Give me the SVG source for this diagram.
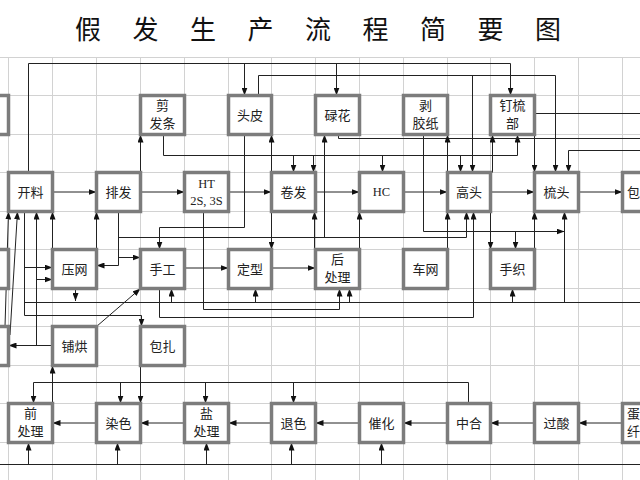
<svg xmlns="http://www.w3.org/2000/svg" width="640" height="480" viewBox="0 0 640 480">
<style>
.g{stroke:#d2d2d2;stroke-width:1;fill:none}
.b{fill:#fff;stroke:#7c7c7c;stroke-width:3.5}
.bi{fill:none;stroke:#3a3a3a;stroke-width:0.8}
.t{font-family:"Noto Sans CJK SC","Noto Sans",sans-serif;font-size:13px;fill:#222;text-anchor:middle}
.s{font-family:"Liberation Serif",serif;font-size:12.5px;fill:#222;text-anchor:middle}
.c{fill:none;stroke:#222;stroke-width:1}
.title{font-family:"Noto Sans CJK SC",sans-serif;font-size:26px;fill:#111;text-anchor:middle}
</style>
<defs>
<marker id="a" viewBox="0 0 8 6" refX="8" refY="3" markerWidth="8" markerHeight="6" orient="auto" markerUnits="userSpaceOnUse"><path d="M0,0 L8,3 L0,6 z" fill="#111"/></marker>
</defs>
<rect width="640" height="480" fill="#fff"/>
<g id="grid" class="g">
<path d="M8.5,57V480M52.5,57V480M96.5,57V480M140.5,57V480M184.5,57V480M228.5,57V480M271.5,57V480M315.5,57V480M359.5,57V480M403.5,57V480M447.5,57V480M490.5,57V480M534.5,57V480M578.5,57V480M622.5,57V480"/>
<path d="M0,57.5H640M0,95.5H640M0,134.5H640M0,172.5H640M0,211.5H640M0,249.5H640M0,288.5H640M0,326.5H640M0,365.5H640M0,403.5H640M0,442.5H640"/>
</g>
<text class="title" x="88 145.5 203 260.5 318 375.5 433 490.5 548" y="39">假发生产流程简要图</text>
<g id="connectors" class="c">
<path d="M28.5,172.5V63.5H510.5V95.5" marker-end="url(#a)"/>
<path d="M244.5,63.5V95.5" marker-end="url(#a)"/>
<path d="M336.5,63.5V95.5" marker-end="url(#a)"/>
<path d="M258.5,95.5V75.5H555.5V172.5" marker-end="url(#a)"/>
<path d="M472.5,75.5V172.5" marker-end="url(#a)"/>
<path d="M163.5,134.5V155.5H517.5V134.5" marker-end="url(#a)"/>
<path d="M293.5,155.5V172.5" marker-end="url(#a)"/>
<path d="M313.5,155.5V172.5" marker-end="url(#a)"/>
<path d="M382.5,155.5V172.5" marker-end="url(#a)"/>
<path d="M460.5,155.5V172.5" marker-end="url(#a)"/>
<path d="M338.5,134.5V138.5H640"/>
<path d="M640,150.5H568.5V172.5" marker-end="url(#a)"/>
<path d="M534.5,113.5H640"/>
<path d="M534.5,134.5V172.5" marker-end="url(#a)"/>
<path d="M140.5,172.5V134.5" marker-end="url(#a)"/>
<path d="M271.5,172.5V134.5" marker-end="url(#a)"/>
<path d="M324.5,237.5V134.5" marker-end="url(#a)"/>
<path d="M447.5,172.5V134.5" marker-end="url(#a)"/>
<path d="M492.5,172.5V134.5" marker-end="url(#a)"/>
<path d="M244.5,134.5V227.5H159.5V249.5" marker-end="url(#a)"/>
<path d="M52.5,192H96.5" marker-end="url(#a)"/>
<path d="M140.5,192H184.5" marker-end="url(#a)"/>
<path d="M228.5,192H271.5" marker-end="url(#a)"/>
<path d="M315.5,192H359.5" marker-end="url(#a)"/>
<path d="M403.5,192H447.5" marker-end="url(#a)"/>
<path d="M490.5,192H534.5" marker-end="url(#a)"/>
<path d="M578.5,192H622.5" marker-end="url(#a)"/>
<path d="M52.5,249.5V211.5" marker-end="url(#a)"/>
<path d="M96.5,249.5V211.5" marker-end="url(#a)"/>
<path d="M118.5,211.5V265.5H96.5" marker-end="url(#a)"/>
<path d="M118.5,257.5H140.5" marker-end="url(#a)"/>
<path d="M118.5,237.5H466.5V211.5" marker-end="url(#a)"/>
<path d="M423.5,134.5V231.5H564.5" marker-end="url(#a)"/>
<path d="M515.5,231.5V249.5" marker-end="url(#a)"/>
<path d="M271.5,211.5V249.5" marker-end="url(#a)"/>
<path d="M314.5,249.5V211.5" marker-end="url(#a)"/>
<path d="M359.5,249.5V211.5" marker-end="url(#a)"/>
<path d="M447.5,249.5V211.5" marker-end="url(#a)"/>
<path d="M490.5,211.5V249.5" marker-end="url(#a)"/>
<path d="M534.5,249.5V211.5" marker-end="url(#a)"/>
<path d="M564.5,302.5V211.5" marker-end="url(#a)"/>
<path d="M159.5,288.5V317.5H473.5V211.5" marker-end="url(#a)"/>
<path d="M203.5,211.5V309.5H339.5V288.5" marker-end="url(#a)"/>
<path d="M184.5,268H228.5" marker-end="url(#a)"/>
<path d="M271.5,268H315.5" marker-end="url(#a)"/>
<path d="M75.5,288.5V301" marker-end="url(#a)"/>
<path d="M24.5,211.5V315.5H141.5V326.5" marker-end="url(#a)"/>
<path d="M24.5,267.5H52.5" marker-end="url(#a)"/>
<path d="M36.5,279.5H52.5" marker-end="url(#a)"/>
<path d="M24.5,302.5H640"/>
<path d="M171.5,302.5V288.5" marker-end="url(#a)"/>
<path d="M255.5,302.5V288.5" marker-end="url(#a)"/>
<path d="M349.5,302.5V288.5" marker-end="url(#a)"/>
<path d="M512.5,302.5V288.5" marker-end="url(#a)"/>
<path d="M36.5,345.5V211.5" marker-end="url(#a)"/>
<path d="M52.5,345.5H8.5" marker-end="url(#a)"/>
<path d="M5,326.5L8.5,211.5" marker-end="url(#a)"/>
<path d="M10,335L17.5,211.5" marker-end="url(#a)"/>
<path d="M52.5,403.5V365.5" marker-end="url(#a)"/>
<path d="M96.5,326.5L140.5,288.5" marker-end="url(#a)"/>
<path d="M140.5,365.5V403.5" marker-end="url(#a)"/>
<path d="M468.5,403.5V382.5H33.5V403.5" marker-end="url(#a)"/>
<path d="M120.5,382.5V403.5" marker-end="url(#a)"/>
<path d="M205.5,382.5V403.5" marker-end="url(#a)"/>
<path d="M293.5,382.5V403.5" marker-end="url(#a)"/>
<path d="M622.5,423H578.5" marker-end="url(#a)"/>
<path d="M534.5,423H490.5" marker-end="url(#a)"/>
<path d="M447.5,423H403.5" marker-end="url(#a)"/>
<path d="M359.5,423H315.5" marker-end="url(#a)"/>
<path d="M271.5,423H228.5" marker-end="url(#a)"/>
<path d="M184.5,423H140.5" marker-end="url(#a)"/>
<path d="M96.5,423H52.5" marker-end="url(#a)"/>
<path d="M0,464.5H640"/>
<path d="M28.5,464.5V442.5" marker-end="url(#a)"/>
<path d="M117.5,464.5V442.5" marker-end="url(#a)"/>
<path d="M206.5,464.5V442.5" marker-end="url(#a)"/>
<path d="M291.5,464.5V442.5" marker-end="url(#a)"/>
<path d="M381.5,464.5V442.5" marker-end="url(#a)"/>
</g>
<g id="L1"><rect class="b" x="-40" y="95.5" width="48.5" height="39"/></g>
<g id="n_jianfatiao"><rect class="b" x="140.5" y="95.5" width="44" height="39"/><text class="t" x="162.5" y="110">剪</text><text class="t" x="162.5" y="128">发条</text></g>
<g id="n_toupi"><rect class="b" x="228.5" y="95.5" width="43" height="39"/><text class="t" x="250" y="120">头皮</text></g>
<g id="n_luhua"><rect class="b" x="315.5" y="95.5" width="44" height="39"/><text class="t" x="337.5" y="120">碌花</text></g>
<g id="n_bojiaozhi"><rect class="b" x="403.5" y="95.5" width="44" height="39"/><text class="t" x="425.5" y="110">剥</text><text class="t" x="425.5" y="128">胶纸</text></g>
<g id="n_dingshubu"><rect class="b" x="490.5" y="95.5" width="44" height="39"/><text class="t" x="512.5" y="110">钉梳</text><text class="t" x="512.5" y="128">部</text></g>
<g id="n_kailiao"><rect class="b" x="8.5" y="172.5" width="44" height="39"/><text class="t" x="30.5" y="197">开料</text></g>
<g id="n_paifa"><rect class="b" x="96.5" y="172.5" width="44" height="39"/><text class="t" x="118.5" y="197">排发</text></g>
<g id="n_ht"><rect class="b" x="184.5" y="172.5" width="44" height="39"/><text class="s" x="206.5" y="188">HT</text><text class="s" x="206.5" y="205">2S, 3S</text></g>
<g id="n_juanfa"><rect class="b" x="271.5" y="172.5" width="44" height="39"/><text class="t" x="293.5" y="197">卷发</text></g>
<g id="n_hc"><rect class="b" x="359.5" y="172.5" width="44" height="39"/><text class="s" x="381.5" y="196">HC</text></g>
<g id="n_gaotou"><rect class="b" x="447.5" y="172.5" width="43" height="39"/><text class="t" x="469" y="197">高头</text></g>
<g id="n_shutou"><rect class="b" x="534.5" y="172.5" width="44" height="39"/><text class="t" x="556.5" y="197">梳头</text></g>
<g id="n_bao"><rect class="b" x="622.5" y="172.5" width="60" height="39"/><text class="t" x="627" y="197" style="text-anchor:start">包</text></g>
<g id="L3"><rect class="b" x="-40" y="249.5" width="48.5" height="39"/></g>
<g id="n_yawang"><rect class="b" x="52.5" y="249.5" width="44" height="39"/><text class="t" x="74.5" y="274">压网</text></g>
<g id="n_shougong"><rect class="b" x="140.5" y="249.5" width="44" height="39"/><text class="t" x="162.5" y="274">手工</text></g>
<g id="n_dingxing"><rect class="b" x="228.5" y="249.5" width="43" height="39"/><text class="t" x="250" y="274">定型</text></g>
<g id="n_houchuli"><rect class="b" x="315.5" y="249.5" width="44" height="39"/><text class="t" x="337.5" y="264">后</text><text class="t" x="337.5" y="282">处理</text></g>
<g id="n_chewang"><rect class="b" x="403.5" y="249.5" width="44" height="39"/><text class="t" x="425.5" y="274">车网</text></g>
<g id="n_shouzhi"><rect class="b" x="490.5" y="249.5" width="44" height="39"/><text class="t" x="512.5" y="274">手织</text></g>
<g id="L4"><rect class="b" x="-40" y="326.5" width="48.5" height="39"/></g>
<g id="n_puhong"><rect class="b" x="52.5" y="326.5" width="44" height="39"/><text class="t" x="74.5" y="351">铺烘</text></g>
<g id="n_baozha"><rect class="b" x="140.5" y="326.5" width="44" height="39"/><text class="t" x="162.5" y="351">包扎</text></g>
<g id="n_qianchuli"><rect class="b" x="8.5" y="403.5" width="44" height="39"/><text class="t" x="30.5" y="418">前</text><text class="t" x="30.5" y="436">处理</text></g>
<g id="n_ranse"><rect class="b" x="96.5" y="403.5" width="44" height="39"/><text class="t" x="118.5" y="428">染色</text></g>
<g id="n_yanchuli"><rect class="b" x="184.5" y="403.5" width="44" height="39"/><text class="t" x="206.5" y="418">盐</text><text class="t" x="206.5" y="436">处理</text></g>
<g id="n_tuise"><rect class="b" x="271.5" y="403.5" width="44" height="39"/><text class="t" x="293.5" y="428">退色</text></g>
<g id="n_cuihua"><rect class="b" x="359.5" y="403.5" width="44" height="39"/><text class="t" x="381.5" y="428">催化</text></g>
<g id="n_zhonghe"><rect class="b" x="447.5" y="403.5" width="43" height="39"/><text class="t" x="469" y="428">中合</text></g>
<g id="n_guosuan"><rect class="b" x="534.5" y="403.5" width="44" height="39"/><text class="t" x="556.5" y="428">过酸</text></g>
<g id="n_dan"><rect class="b" x="622.5" y="403.5" width="60" height="39"/><text class="t" x="627" y="418" style="text-anchor:start">蛋</text><text class="t" x="627" y="436" style="text-anchor:start">纤</text></g>
</svg>
